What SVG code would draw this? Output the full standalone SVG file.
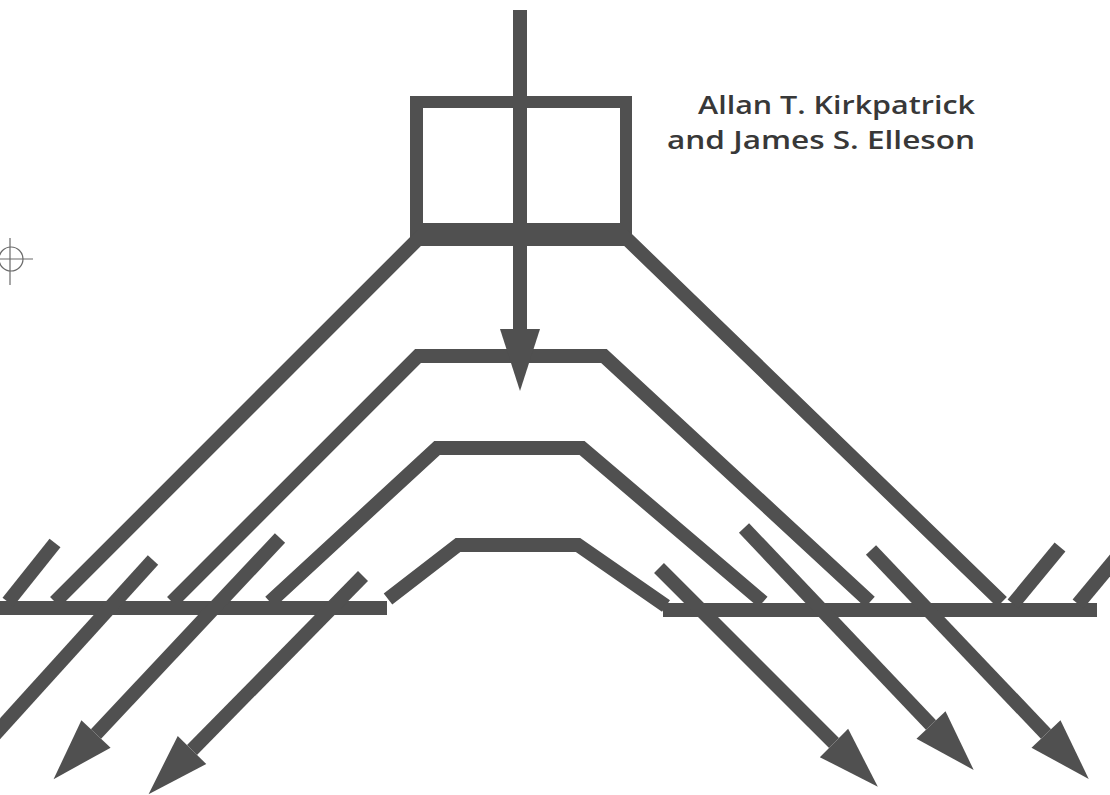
<svg xmlns="http://www.w3.org/2000/svg" width="1110" height="795" viewBox="0 0 1110 795">
  <style>
    .bar { fill: none; stroke: #505050; stroke-width: 14; stroke-linejoin: miter; stroke-linecap: butt; }
    .solid { fill: #505050; }
    .arrow { fill: none; stroke: #505050; stroke-width: 14; stroke-linecap: butt; marker-end: url(#head); }
    .reg { fill: none; stroke: #6a6a6a; stroke-width: 1.2; }
    .author { font-family: "Open Sans", "Liberation Sans", sans-serif; font-weight: 600; font-size: 26px; fill: #383838; }
  </style>
  <defs>
    <marker id="head" markerUnits="userSpaceOnUse" markerWidth="80" markerHeight="60" refX="0" refY="0" viewBox="0 -30 80 60" orient="auto" overflow="visible">
      <path d="M0,-20 L62,0 L0,20 Z" fill="#505050"/>
    </marker>
  </defs>
  <rect width="1110" height="795" fill="#ffffff"/>

  <g id="registration-mark">
    <circle class="reg" cx="11" cy="259" r="12"/>
    <line class="reg" x1="0" y1="259" x2="33" y2="259"/>
    <line class="reg" x1="10" y1="238" x2="10" y2="285"/>
  </g>

  <g id="authors">
    <text class="author" x="698" y="114" textLength="277" lengthAdjust="spacingAndGlyphs">Allan T. Kirkpatrick</text>
    <text class="author" x="667" y="149" textLength="308" lengthAdjust="spacingAndGlyphs">and James S. Elleson</text>
  </g>

  <g id="box">
    <rect class="solid" x="410" y="96" width="222" height="12"/>
    <rect class="solid" x="410" y="96" width="13" height="150"/>
    <rect class="solid" x="620" y="96" width="12" height="150"/>
    <rect class="solid" x="410" y="223" width="222" height="23"/>
  </g>

  <g id="shells">
    <path class="bar" d="M55,602 L420,237 L625,237 L1002,602"/>
    <path class="bar" d="M172,602 L418,356 L604,356 L870,602"/>
    <path class="bar" d="M270,602 L437,448 L582,448 L763,602"/>
    <path class="bar" d="M388,599 L458,545 L578,545 L666,606"/>
  </g>

  <g id="ground">
    <line class="bar" x1="0" y1="608" x2="387" y2="608"/>
    <line class="bar" x1="663" y1="610" x2="1097" y2="610"/>
    <line class="bar" x1="8" y1="602" x2="55" y2="543"/>
    <line class="bar" x1="1013" y1="604" x2="1060" y2="547"/>
    <line class="bar" x1="1078" y1="604" x2="1122" y2="551"/>
  </g>

  <g id="connectors">
    <line class="arrow" x1="520" y1="10" x2="520" y2="329"/>
    <line class="bar" x1="153" y1="560" x2="-12" y2="742"/>
    <line class="arrow" x1="280" y1="538" x2="96" y2="734"/>
    <line class="arrow" x1="363" y1="576" x2="192" y2="750"/>
    <line class="arrow" x1="659" y1="568" x2="834" y2="743"/>
    <line class="arrow" x1="744" y1="528" x2="931" y2="725"/>
    <line class="arrow" x1="871" y1="550" x2="1046" y2="734"/>
  </g>
</svg>
